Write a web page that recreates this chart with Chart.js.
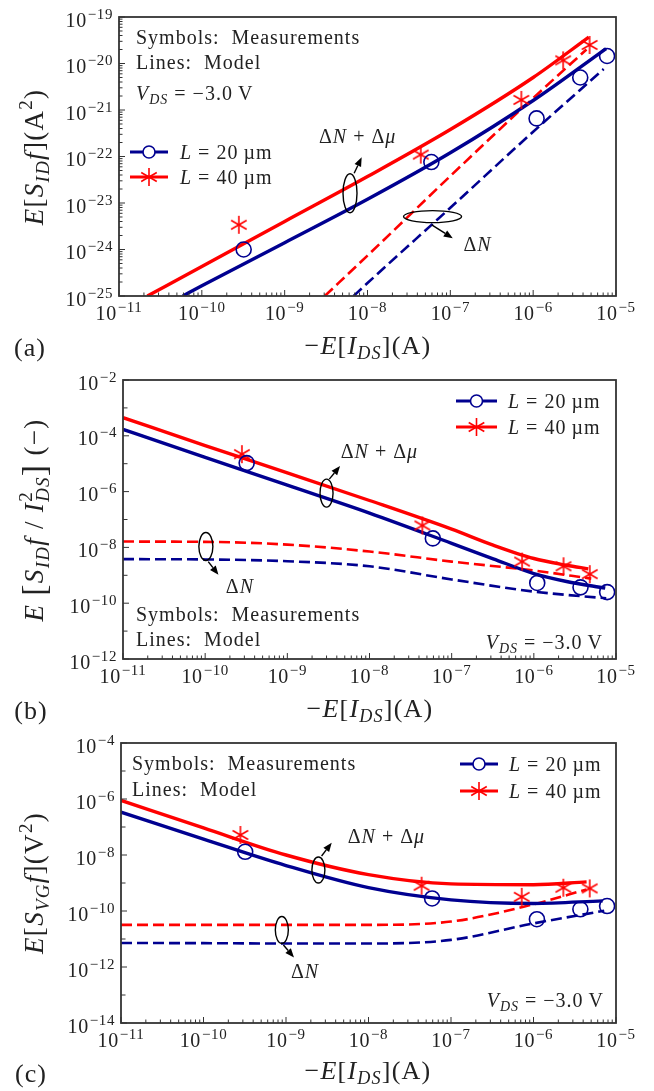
<!DOCTYPE html>
<html>
<head>
<meta charset="utf-8">
<script src="https://cdn.jsdelivr.net/npm/chart.js@4.4.0/dist/chart.umd.min.js"></script>
<style>
  html, body { margin: 0; padding: 0; background: #fff; }
  #wrap { position: relative; width: 654px; height: 1091px; }
  canvas { position: absolute; left: 0; }
</style>
</head>
<body>
<div id="wrap">
  <canvas id="ca" width="654" height="362" style="top:0px"></canvas>
  <canvas id="cb" width="654" height="364" style="top:362px"></canvas>
  <canvas id="cc" width="654" height="365" style="top:726px"></canvas>
</div>
<script>
// ---- data ----
const xTickExps = [-11, -10, -9, -8, -7, -6, -5];
const aYTickExps = [-25, -24, -23, -22, -21, -20, -19];
const bYTickExps = [-12, -10, -8, -6, -4, -2];
const cYTickExps = [-14, -12, -10, -8, -6, -4];
const legendLabels = ['L = 20\u2009\u00b5m', 'L = 40\u2009\u00b5m'];

// measured drain currents, -E[I_DS] (A)
const idsL20 = [3.2e-10, 5.9e-8, 1.1e-6, 3.7e-6, 7.8e-6];
const idsL40 = [2.8e-10, 4.4e-8, 7.2e-7, 2.3e-6, 4.8e-6];

// (a) E[S_ID f] (A^2)
const aMeasL20 = [1.0e-24, 7.6e-23, 6.6e-22, 5.0e-21, 1.45e-20];
const aMeasL40 = [3.4e-24, 1.1e-22, 1.65e-21, 1.17e-20, 2.5e-20];
const aTotL20X = [5.9e-11, 1e-10, 1e-9, 1e-8, 1e-7, 1e-6, 7.6e-6];
const aTotL20Y = [1e-25, 1.66e-25, 1.4e-24, 1.2e-23, 1.2e-22, 1.6e-21, 2.1e-20];
const aTotL40X = [2.2e-11, 1e-10, 1e-9, 1e-8, 1e-7, 1e-6, 4.7e-6];
const aTotL40Y = [1e-25, 4.3e-25, 4.0e-24, 3.7e-23, 3.8e-22, 5.0e-21, 3.7e-20];
const aDnL20X = [6.8e-9, 1e-8, 1e-7, 1e-6, 7.1e-6];
const aDnL20Y = [1e-25, 1.9e-25, 7.9e-24, 3.4e-22, 7.6e-21];
const aDnL40X = [3.05e-9, 1e-8, 1e-7, 1e-6, 4.4e-6];
const aDnL40Y = [1e-25, 7.4e-25, 3.8e-23, 1.8e-21, 2.0e-20];

// (b) E[S_ID f / I_DS^2] (-)
const bMeasL20 = [1.05e-5, 2.1e-8, 5.3e-10, 3.7e-10, 2.5e-10];
const bMeasL40 = [2.2e-5, 6.1e-8, 3.1e-9, 2.1e-9, 1.1e-9];
const bTotL20X = [1e-11, 1e-10, 1e-9, 1e-8, 1e-7, 3.2e-7, 1e-6, 2.5e-6, 7.4e-6];
const bTotL20Y = [1.7e-4, 1.7e-5, 1.7e-6, 1.7e-7, 1.4e-8, 3.9e-9, 1.15e-9, 6.0e-10, 3.5e-10];
const bTotL40X = [1e-11, 1e-10, 1e-9, 1e-8, 1e-7, 3.2e-7, 1e-6, 2.5e-6, 4.6e-6];
const bTotL40Y = [4.47e-4, 4.47e-5, 4.7e-6, 4.8e-7, 4.5e-8, 1.2e-8, 4.0e-9, 2.3e-9, 1.7e-9];
const bDnL20X = [1e-11, 1e-10, 1e-9, 1e-8, 1e-7, 1e-6, 7.6e-6];
const bDnL20Y = [3.8e-9, 3.7e-9, 3.2e-9, 2.1e-9, 7.1e-10, 2.6e-10, 1.5e-10];
const bDnL40X = [1e-11, 1e-10, 1e-9, 1e-8, 1e-7, 1e-6, 5.0e-6];
const bDnL40Y = [1.62e-8, 1.58e-8, 1.26e-8, 7.1e-9, 3.1e-9, 1.48e-9, 7.6e-10];

// (c) E[S_VG f] (V^2)
const cMeasL20 = [1.3e-8, 2.8e-10, 5.1e-11, 1.15e-10, 1.5e-10];
const cMeasL40 = [5.2e-8, 8.0e-10, 3.2e-10, 6.8e-10, 6.4e-10];
const cTotL20X = [1e-11, 1e-10, 1e-9, 1e-8, 1e-7, 1e-6, 6.9e-6];
const cTotL20Y = [3.4e-7, 3.7e-8, 4.2e-9, 6.8e-10, 2.5e-10, 1.86e-10, 2.3e-10];
const cTotL40X = [1e-11, 1e-10, 1e-9, 1e-8, 1e-7, 1e-6, 4.4e-6];
const cTotL40Y = [8.9e-7, 9.3e-8, 1.0e-8, 2.0e-9, 9.3e-10, 8.7e-10, 1.1e-9];
const cDnL20X = [1e-11, 1e-10, 1e-9, 1e-8, 1e-7, 1e-6, 7.2e-6];
const cDnL20Y = [7.2e-12, 7.1e-12, 6.9e-12, 6.9e-12, 9.3e-12, 3.6e-11, 1.02e-10];
const cDnL40X = [1e-11, 1e-10, 1e-9, 1e-8, 1e-7, 1e-6, 4.4e-6];
const cDnL40Y = [3.2e-11, 3.2e-11, 3.2e-11, 3.2e-11, 4.2e-11, 1.74e-10, 5.9e-10];

// ---- styling ----
const BLUE = '#000090';
const RED = '#ff0000';
const FRAME = '#333333';
const SERIF = '"Liberation Serif", "DejaVu Serif", serif';

function pts(xs, ys) {
  return xs.map((x, i) => ({ x: x, y: ys[i] }));
}

// six-armed asterisk used as the L = 40 um marker
function asterisk(ctx, x, y, r) {
  for (let k = 0; k < 3; k++) {
    const ang = Math.PI / 2 + k * Math.PI / 3;
    ctx.beginPath();
    ctx.moveTo(x + r * Math.cos(ang), y + r * Math.sin(ang));
    ctx.lineTo(x - r * Math.cos(ang), y - r * Math.sin(ang));
    ctx.stroke();
  }
}
function asteriskImage(color, r, lw) {
  const c = document.createElement('canvas');
  const s = Math.ceil(2 * r + lw + 2);
  c.width = s;
  c.height = s;
  const g = c.getContext('2d');
  g.strokeStyle = color;
  g.lineWidth = lw;
  asterisk(g, s / 2, s / 2, r);
  return c;
}
const starMarker = asteriskImage(RED, 9, 1.6);

function modelLine(xs, ys, color, dashed) {
  return {
    data: pts(xs, ys),
    showLine: true,
    borderColor: color,
    backgroundColor: color,
    borderWidth: dashed ? 2.6 : 3.4,
    borderDash: dashed ? [11, 5] : [],
    pointRadius: 0,
    pointHoverRadius: 0,
    cubicInterpolationMode: 'monotone',
    fill: false,
    order: 2,
  };
}

function measSet(xs, ys, isL20) {
  return {
    data: pts(xs, ys),
    showLine: false,
    pointStyle: isL20 ? 'circle' : starMarker,
    pointRadius: isL20 ? 7.5 : 9,
    pointHoverRadius: isL20 ? 7.5 : 9,
    borderWidth: 1.6,
    pointBorderWidth: 1.6,
    borderColor: isL20 ? BLUE : RED,
    pointBorderColor: isL20 ? BLUE : RED,
    backgroundColor: 'rgba(0,0,0,0)',
    pointBackgroundColor: 'rgba(0,0,0,0)',
    order: 1,
  };
}

// ---- rich text (italic / sub / sup) ----
function setFont(ctx, size, italic) {
  ctx.font = (italic ? 'italic ' : '') + size.toFixed(1) + 'px ' + SERIF;
}
function runWidth(ctx, r, size) {
  if (r.k === 'ss') {
    setFont(ctx, size * 0.7, false);
    const a = ctx.measureText(r.sup).width;
    setFont(ctx, size * 0.7, true);
    const b = ctx.measureText(r.t).width;
    return Math.max(a, b);
  }
  const s = (r.k === 'sub' || r.k === 'sup') ? size * 0.7 : size * (r.z || 1);
  setFont(ctx, s, r.i);
  return ctx.measureText(r.t).width;
}
// y is the vertical middle of capitals
function drawRuns(ctx, runs, x, y, size, align, spacing) {
  ctx.letterSpacing = (spacing || 0) + 'px';
  let w = 0;
  runs.forEach(r => { w += runWidth(ctx, r, size); });
  let cx = align === 'center' ? x - w / 2 : (align === 'right' ? x - w : x);
  const base = y + size * 0.33;
  ctx.textAlign = 'left';
  ctx.textBaseline = 'alphabetic';
  runs.forEach(r => {
    const rw = runWidth(ctx, r, size);
    if (r.k === 'ss') {
      setFont(ctx, size * 0.7, false);
      ctx.fillText(r.sup, cx, base - size * 0.4);
      setFont(ctx, size * 0.7, true);
      ctx.fillText(r.t, cx, base + size * 0.22);
    } else {
      const s = (r.k === 'sub' || r.k === 'sup') ? size * 0.7 : size * (r.z || 1);
      setFont(ctx, s, r.i);
      const dy = r.k === 'sub' ? size * 0.22 : (r.k === 'sup' ? -size * 0.4 : (r.z ? (r.z - 1) * size * 0.3 : 0));
      ctx.fillText(r.t, cx, base + dy);
    }
    cx += rw;
  });
  ctx.letterSpacing = '0px';
}

// "10^e" tick label, y = middle of the "10"
function drawPow(ctx, e, x, y, align) {
  ctx.letterSpacing = '0.6px';
  setFont(ctx, 20, false);
  const w10 = ctx.measureText('10').width;
  const ex = '\u2212' + Math.abs(e);
  setFont(ctx, 15, false);
  const we = ctx.measureText(ex).width + 1;
  const w = w10 + we;
  const left = align === 'center' ? x - w / 2 : x - w;
  ctx.textAlign = 'left';
  ctx.textBaseline = 'alphabetic';
  setFont(ctx, 20, false);
  ctx.fillText('10', left, y + 6.5);
  setFont(ctx, 15, false);
  ctx.fillText(ex, left + w10 + 1, y - 1.5);
  ctx.letterSpacing = '0px';
}

const R = (t, i) => ({ t: t, i: i ? 1 : 0 });
const dnmuRuns = [R('\u0394'), R('N', 1), R(' + \u0394'), R('\u03bc', 1)];
const dnRuns = [R('\u0394'), R('N', 1)];
const vdsRuns = [R('V', 1), { t: 'DS', i: 1, k: 'sub' }, R(' = \u22123.0\u2009V')];
const xTitleRuns = [R('\u2212'), R('E', 1), R('['), R('I', 1), { t: 'DS', i: 1, k: 'sub' }, R('](A)')];

const panels = {
  ca: {
    yExps: aYTickExps, yMinor: 'sub',
    texts: [
      { runs: [R('Symbols:  Measurements')], x: 136, y: 37, align: 'left' },
      { runs: [R('Lines:  Model')], x: 136, y: 62, align: 'left' },
      { runs: vdsRuns, x: 136, y: 93, align: 'left' },
    ],
    legend: { x1: 130, x2: 168, ys: [152, 177], tx: 180 },
    yTitle: { runs: [R('E', 1), R('['), R('S', 1), { t: 'ID', i: 1, k: 'sub' }, R('f', 1), R('](A'), { t: '2', k: 'sup' }, R(')')], x: 34, y: 157 },
    xTitle: { x: 368, y: 345 },
    label: { t: '(a)', x: 30, y: 347 },
    ann: [
      { type: 'text', runs: dnmuRuns, x: 7.6e-9, y: 2.67e-22 },
      { type: 'ellipse', x: 6.15e-9, y: 1.62e-23, w: 14, h: 39 },
      { type: 'arrow', x1: 6.9e-9, y1: 4.35e-23, x2: 8.5e-9, y2: 9.6e-23 },
      { type: 'ellipse', x: 6.1e-8, y: 5.1e-24, w: 58, h: 12 },
      { type: 'arrow', x1: 5.96e-8, y1: 3.4e-24, x2: 1.07e-7, y2: 1.74e-24 },
      { type: 'text', runs: dnRuns, x: 2.13e-7, y: 1.31e-24 },
    ],
  },
  cb: {
    yExps: bYTickExps, yMinor: 'dec',
    texts: [
      { runs: [R('Symbols:  Measurements')], x: 136, y: 252, align: 'left' },
      { runs: [R('Lines:  Model')], x: 136, y: 277, align: 'left' },
      { runs: vdsRuns, x: 603, y: 280, align: 'right' },
    ],
    legend: { x1: 456, x2: 497, ys: [39, 65], tx: 508 },
    yTitle: { runs: [R('E', 1), R(' '), { t: '[', z: 1.25 }, R('S', 1), { t: 'ID', i: 1, k: 'sub' }, R('f', 1), R(' / '), R('I', 1), { k: 'ss', t: 'DS', sup: '2' }, { t: ']', z: 1.25 }, R(' (\u2212)')], x: 34, y: 158 },
    xTitle: { x: 370, y: 346 },
    label: { t: '(b)', x: 31, y: 348 },
    ann: [
      { type: 'text', runs: dnmuRuns, x: 1.32e-8, y: 2.7e-5 },
      { type: 'ellipse', x: 3.0e-9, y: 8.8e-7, w: 13, h: 28 },
      { type: 'arrow', x1: 3.24e-9, y1: 2.79e-6, x2: 4.38e-9, y2: 8.3e-6 },
      { type: 'ellipse', x: 1.02e-10, y: 1.08e-8, w: 14, h: 28 },
      { type: 'arrow', x1: 1.09e-10, y1: 3.1e-9, x2: 1.45e-10, y2: 1.04e-9 },
      { type: 'text', runs: dnRuns, x: 2.65e-10, y: 4.0e-10 },
    ],
  },
  cc: {
    yExps: cYTickExps, yMinor: 'dec',
    texts: [
      { runs: [R('Symbols:  Measurements')], x: 132, y: 37, align: 'left' },
      { runs: [R('Lines:  Model')], x: 132, y: 63, align: 'left' },
      { runs: vdsRuns, x: 604, y: 274, align: 'right' },
    ],
    legend: { x1: 460, x2: 498, ys: [38, 65], tx: 509 },
    yTitle: { runs: [R('E', 1), R('['), R('S', 1), { t: 'VG', i: 1, k: 'sub' }, R('f', 1), R('](V'), { t: '2', k: 'sup' }, R(')')], x: 34, y: 157 },
    xTitle: { x: 368, y: 344 },
    label: { t: '(c)', x: 31, y: 347 },
    ann: [
      { type: 'text', runs: dnmuRuns, x: 1.65e-8, y: 4.5e-8 },
      { type: 'ellipse', x: 2.47e-9, y: 2.9e-9, w: 13, h: 26 },
      { type: 'arrow', x1: 2.7e-9, y1: 9.2e-9, x2: 3.58e-9, y2: 2.75e-8 },
      { type: 'ellipse', x: 8.9e-10, y: 2.1e-11, w: 13, h: 27 },
      { type: 'arrow', x1: 9.3e-10, y1: 6.1e-12, x2: 1.25e-9, y2: 2.2e-12 },
      { type: 'text', runs: dnRuns, x: 1.7e-9, y: 6.8e-13 },
    ],
  },
};

function seg(ctx, x1, y1, x2, y2) {
  ctx.beginPath();
  ctx.moveTo(x1, y1);
  ctx.lineTo(x2, y2);
  ctx.stroke();
}

function arrow(ctx, x1, y1, x2, y2) {
  const ang = Math.atan2(y2 - y1, x2 - x1);
  const hl = 9, hw = 3.6;
  const bx = x2 - hl * Math.cos(ang), by = y2 - hl * Math.sin(ang);
  seg(ctx, x1, y1, bx, by);
  ctx.beginPath();
  ctx.moveTo(x2, y2);
  ctx.lineTo(bx + hw * Math.sin(ang), by - hw * Math.cos(ang));
  ctx.lineTo(bx - hw * Math.sin(ang), by + hw * Math.cos(ang));
  ctx.closePath();
  ctx.fill();
}

const decor = {
  id: 'decor',
  afterDatasetsDraw(chart) {
    const p = panels[chart.canvas.id];
    const ctx = chart.ctx, a = chart.chartArea;
    const xs = chart.scales.x, ys = chart.scales.y;
    ctx.save();

    // frame
    ctx.strokeStyle = FRAME;
    ctx.lineWidth = 1.8;
    ctx.strokeRect(a.left, a.top, a.right - a.left, a.bottom - a.top);

    // ticks, pointing inward on bottom and left
    ctx.lineWidth = 1;
    const x0 = xTickExps[0], x1 = xTickExps[xTickExps.length - 1];
    for (let e = x0; e <= x1; e++) {
      for (let m = 1; m < 10; m++) {
        if (e === x1 && m > 1) break;
        const px = xs.getPixelForValue(m * Math.pow(10, e));
        seg(ctx, px, a.bottom, px, a.bottom - (m === 1 ? 6 : 3.5));
      }
    }
    const y0 = p.yExps[0], y1 = p.yExps[p.yExps.length - 1];
    for (let e = y0; e <= y1; e++) {
      const major = p.yExps.indexOf(e) >= 0;
      const py = ys.getPixelForValue(Math.pow(10, e));
      seg(ctx, a.left, py, a.left + (major ? 6 : 4.5), py);
      if (p.yMinor === 'sub' && e < y1) {
        for (let m = 2; m < 10; m++) {
          const q = ys.getPixelForValue(m * Math.pow(10, e));
          seg(ctx, a.left, q, a.left + 3.5, q);
        }
      }
    }

    // tick labels
    ctx.fillStyle = '#222';
    xTickExps.forEach(e => drawPow(ctx, e, xs.getPixelForValue(Math.pow(10, e)), a.bottom + 17, 'center'));
    p.yExps.forEach(e => drawPow(ctx, e, a.left - 6, ys.getPixelForValue(Math.pow(10, e)) + 3, 'right'));

    // axis titles and panel label
    drawRuns(ctx, xTitleRuns, p.xTitle.x, p.xTitle.y, 26, 'center', 1.2);
    ctx.save();
    ctx.translate(p.yTitle.x, p.yTitle.y);
    ctx.rotate(-Math.PI / 2);
    drawRuns(ctx, p.yTitle.runs, 0, 0, 27, 'center', 1.3);
    ctx.restore();
    drawRuns(ctx, [R(p.label.t)], p.label.x, p.label.y, 26, 'center', 1);

    // free texts
    p.texts.forEach(t => drawRuns(ctx, t.runs, t.x, t.y, 20, t.align, 1));

    // legend
    const lg = p.legend;
    const mx = (lg.x1 + lg.x2) / 2;
    ctx.lineWidth = 3.2;
    ctx.strokeStyle = BLUE;
    seg(ctx, lg.x1, lg.ys[0], lg.x2, lg.ys[0]);
    ctx.lineWidth = 1.6;
    ctx.beginPath();
    ctx.arc(mx, lg.ys[0], 6, 0, Math.PI * 2);
    ctx.fillStyle = '#fff';
    ctx.fill();
    ctx.stroke();
    ctx.strokeStyle = RED;
    ctx.lineWidth = 3.2;
    seg(ctx, lg.x1, lg.ys[1], lg.x2, lg.ys[1]);
    ctx.lineWidth = 1.6;
    asterisk(ctx, mx, lg.ys[1], 9);
    ctx.fillStyle = '#222';
    legendLabels.forEach((s, i) => {
      drawRuns(ctx, [R(s.slice(0, 1), 1), R(s.slice(1))], lg.tx, lg.ys[i], 20, 'left', 1);
    });

    // annotations (placed in data coordinates)
    ctx.strokeStyle = '#000';
    ctx.fillStyle = '#000';
    ctx.lineWidth = 1.4;
    p.ann.forEach(n => {
      if (n.type === 'ellipse') {
        ctx.beginPath();
        ctx.ellipse(xs.getPixelForValue(n.x), ys.getPixelForValue(n.y), n.w / 2, n.h / 2, 0, 0, Math.PI * 2);
        ctx.stroke();
      } else if (n.type === 'arrow') {
        arrow(ctx, xs.getPixelForValue(n.x1), ys.getPixelForValue(n.y1), xs.getPixelForValue(n.x2), ys.getPixelForValue(n.y2));
      } else {
        ctx.fillStyle = '#222';
        drawRuns(ctx, n.runs, xs.getPixelForValue(n.x), ys.getPixelForValue(n.y), 20, 'center', 1);
        ctx.fillStyle = '#000';
      }
    });
    ctx.restore();
  },
};

function makeChart(id, pad, ymin, ymax, datasets) {
  return new Chart(document.getElementById(id), {
    type: 'scatter',
    data: { datasets: datasets },
    options: {
      responsive: false,
      animation: false,
      layout: { padding: pad },
      scales: {
        x: { type: 'logarithmic', min: 1e-11, max: 1e-5, display: false },
        y: { type: 'logarithmic', min: ymin, max: ymax, display: false },
      },
      plugins: { legend: { display: false }, tooltip: { enabled: false } },
      events: [],
    },
    plugins: [decor],
  });
}

makeChart('ca', { left: 119, right: 38, top: 17, bottom: 66 }, 1e-25, 1e-19, [
  measSet(idsL20, aMeasL20, true),
  measSet(idsL40, aMeasL40, false),
  modelLine(aTotL20X, aTotL20Y, BLUE, false),
  modelLine(aTotL40X, aTotL40Y, RED, false),
  modelLine(aDnL20X, aDnL20Y, BLUE, true),
  modelLine(aDnL40X, aDnL40Y, RED, true),
]);

makeChart('cb', { left: 123, right: 38, top: 18, bottom: 67 }, 1e-12, 1e-2, [
  measSet(idsL20, bMeasL20, true),
  measSet(idsL40, bMeasL40, false),
  modelLine(bTotL20X, bTotL20Y, BLUE, false),
  modelLine(bTotL40X, bTotL40Y, RED, false),
  modelLine(bDnL20X, bDnL20Y, BLUE, true),
  modelLine(bDnL40X, bDnL40Y, RED, true),
]);

makeChart('cc', { left: 121, right: 38, top: 17, bottom: 68 }, 1e-14, 1e-4, [
  measSet(idsL20, cMeasL20, true),
  measSet(idsL40, cMeasL40, false),
  modelLine(cTotL20X, cTotL20Y, BLUE, false),
  modelLine(cTotL40X, cTotL40Y, RED, false),
  modelLine(cDnL20X, cDnL20Y, BLUE, true),
  modelLine(cDnL40X, cDnL40Y, RED, true),
]);
</script>
</body>
</html>
